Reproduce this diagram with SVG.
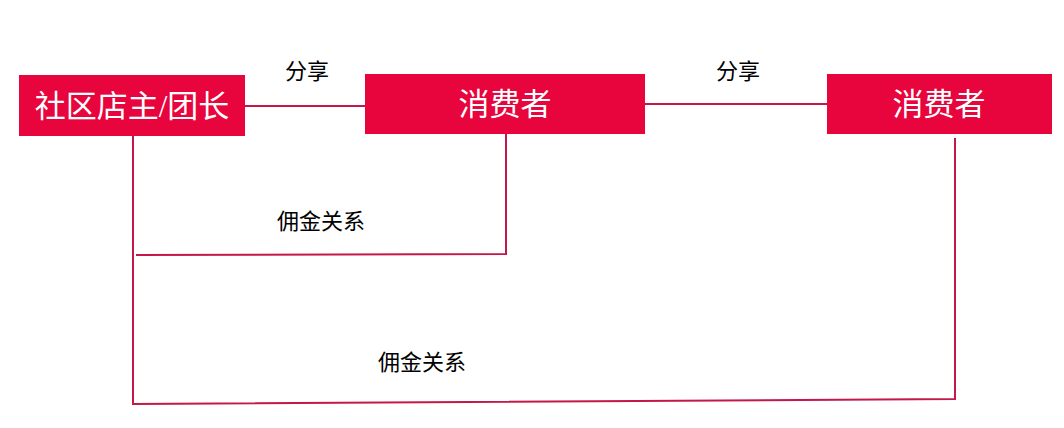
<svg xmlns="http://www.w3.org/2000/svg" width="1064" height="428" viewBox="0 0 1064 428">
<style>
.box{fill:#e8043c}
.bt{fill:#ffffff;font-family:"Liberation Serif","Noto Sans CJK SC",serif;font-size:31px;text-anchor:middle;dominant-baseline:central}
.lbl{fill:#000000;font-family:"Liberation Sans","Noto Sans CJK SC",sans-serif;font-size:22px;text-anchor:middle;dominant-baseline:central}
.ln{stroke:#c4184a;stroke-width:2;fill:none}
</style>
<rect width="1064" height="428" fill="#ffffff"/>
<g id="connectors">
<line class="ln" x1="245" y1="106" x2="365" y2="106"/>
<line class="ln" x1="645" y1="104" x2="827" y2="104"/>
<polyline class="ln" points="506,134 506,254 136,255"/>
<line class="ln" x1="133" y1="136" x2="133" y2="405"/>
<polyline class="ln" points="955,138 955,399 133,404"/>
<text class="lbl" x="307" y="71">分享</text>
<text class="lbl" x="738" y="71">分享</text>
<text class="lbl" x="321" y="221">佣金关系</text>
<text class="lbl" x="422" y="362">佣金关系</text>
</g>
<g id="node-owner">
<rect class="box" x="19" y="75" width="226" height="61"/>
<text class="bt" x="132" y="106">社区店主/团长</text>
</g>
<g id="node-consumer1">
<rect class="box" x="365" y="74" width="280" height="60"/>
<text class="bt" x="505" y="104">消费者</text>
</g>
<g id="node-consumer2">
<rect class="box" x="827" y="74" width="225" height="60"/>
<text class="bt" x="939" y="104">消费者</text>
</g>
</svg>
